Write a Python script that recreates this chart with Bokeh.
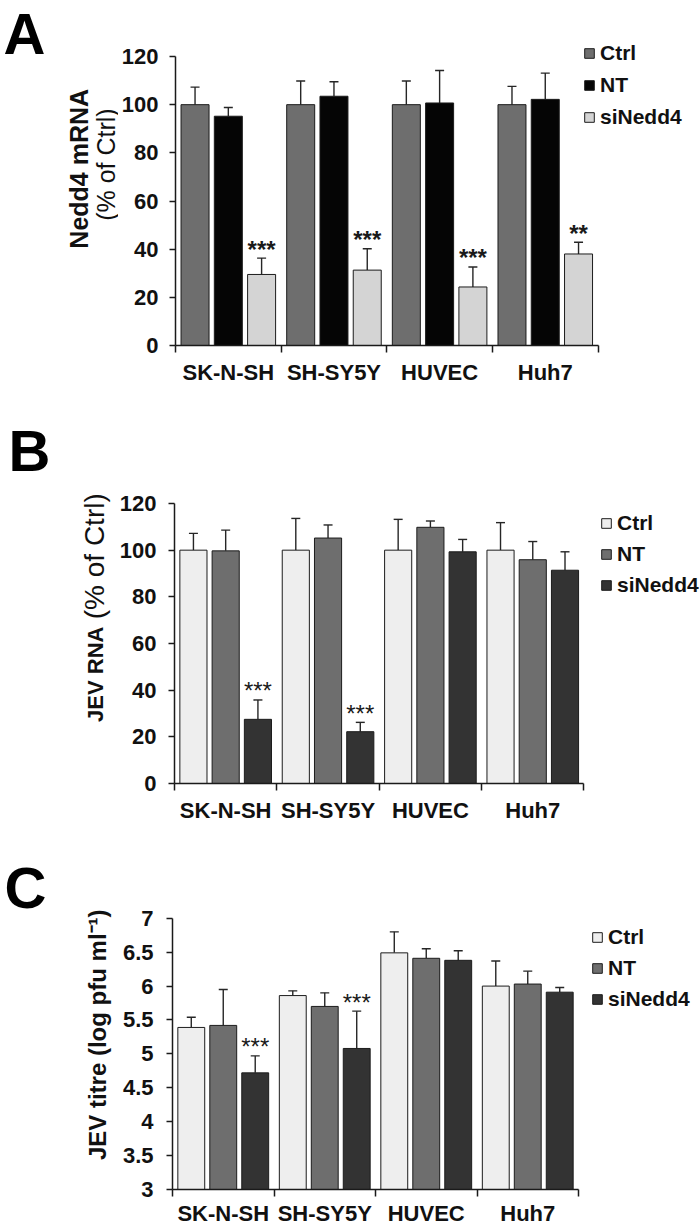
import math
import numpy as np
from bokeh.plotting import figure
from bokeh.models import (Range1d, FixedTicker, CustomJSTickFormatter, ColumnDataSource,
                          Whisker, TeeHead, Label, Legend, LegendItem)
from bokeh.layouts import column, row
from bokeh.embed import file_html
from bokeh.resources import INLINE
from bokeh.core.properties import value

# ---------------- data ----------------
cell_lines = ["SK-N-SH", "SH-SY5Y", "HUVEC", "Huh7"]
series = ["Ctrl", "NT", "siNedd4"]

# Panel A: Nedd4 mRNA (% of Ctrl)
a_ctrl = [100, 100, 100, 100]
a_ctrl_err = [7.3, 9.8, 9.8, 7.6]
a_nt = [95.2, 103.5, 100.7, 102.2]
a_nt_err = [3.6, 6.0, 13.5, 10.9]
a_si = [29.5, 31.3, 24.3, 38.0]
a_si_err = [6.8, 8.9, 8.3, 4.9]
a_stars = ["***", "***", "***", "**"]
a_ticks = [0, 20, 40, 60, 80, 100, 120]

# Panel B: JEV RNA (% of Ctrl)
b_ctrl = [100, 100, 100, 100]
b_ctrl_err = [7.2, 13.6, 13.2, 11.8]
b_nt = [99.7, 105.2, 109.8, 95.9]
b_nt_err = [8.9, 5.6, 2.7, 7.8]
b_si = [27.5, 22.2, 99.3, 91.4]
b_si_err = [8.3, 4.0, 5.3, 7.9]
b_stars = ["***", "***", "", ""]
b_ticks = [0, 20, 40, 60, 80, 100, 120]

# Panel C: JEV titre (log pfu/ml)
c_ctrl = [5.39, 5.86, 6.49, 6.00]
c_ctrl_err = [0.15, 0.07, 0.31, 0.37]
c_nt = [5.42, 5.70, 6.41, 6.03]
c_nt_err = [0.53, 0.20, 0.14, 0.19]
c_si = [4.72, 5.08, 6.38, 5.91]
c_si_err = [0.25, 0.55, 0.14, 0.07]
c_stars = ["***", "***", "", ""]
c_ticks = [3, 3.5, 4, 4.5, 5, 5.5, 6, 6.5, 7]

a_colors = ["#6e6e6e", "#050505", "#d4d4d4"]
bc_colors = ["#eeeeee", "#6e6e6e", "#333333"]

FONT = "Liberation Sans"
PAGE_W = 700
AXIS_X = 172          # page x of the y axis
OFFS = [-0.315, 0.0, 0.315]
BAR_W = 0.265
ROWH = 25


def side_figure(T, H, W1, letter, letter_x, letter_top, titles):
    """Narrow figure holding the panel letter and the y-axis title."""
    s = figure(width=W1, height=H, x_range=Range1d(0, W1), y_range=Range1d(0, H),
               output_backend="svg", toolbar_location=None,
               x_axis_type=None, y_axis_type=None,
               min_border_left=0, min_border_right=0, min_border_top=0, min_border_bottom=0)
    s.outline_line_color = None
    s.xgrid.visible = False
    s.ygrid.visible = False
    s.add_layout(Label(x=letter_x, y=H - (letter_top - T), text=letter,
                       text_font=FONT, text_font_style="bold", text_font_size="58px",
                       text_baseline="top", text_align="left", text_color="#000000"))
    for (txt, cx, cy, size, style) in titles:
        s.add_layout(Label(x=cx, y=H - (cy - T), text=txt, angle=math.pi / 2,
                           text_font=FONT, text_font_style=style,
                           text_font_size=f"{size}px", text_align="center",
                           text_baseline="middle", text_color="#111111"))
    return s


def main_figure(T, H, W1, FT, FB, FR, ylo, yhi, yticks, vals, errs, stars, colors,
                star_style, legend_x, legend_row1, legend_step, xlab_standoff, ylab_standoff):
    n = len(cell_lines)
    px_x = (FR - AXIS_X) / n
    px_y = (FB - FT) / (yhi - ylo)
    xmax = (PAGE_W - AXIS_X) / px_x
    ytop = yhi + (FT - T) / px_y
    p = figure(width=PAGE_W - W1, height=H,
               x_range=Range1d(0, xmax), y_range=Range1d(ylo, ytop),
               output_backend="svg", toolbar_location=None,
               min_border_left=AXIS_X - W1, min_border_right=0,
               min_border_top=0, min_border_bottom=T + H - FB)
    p.outline_line_color = None
    p.xgrid.visible = False
    p.ygrid.visible = False

    renderers = []
    base = np.arange(n) + 0.5
    for k, name in enumerate(series):
        v = np.array(vals[k], dtype=float)
        e = np.array(errs[k], dtype=float)
        src = ColumnDataSource(dict(x=base + OFFS[k], top=v, up=v + e,
                                    stars=stars if k == 2 else [""] * len(v)))
        r = p.vbar(x="x", top="top", bottom=ylo, width=BAR_W, source=src,
                   fill_color=colors[k], line_color="#1c1c1c", line_width=1)
        renderers.append(r)
        w = Whisker(base="x", lower="top", upper="up", source=src, dimension="height",
                    line_color="#262626", line_width=1.4,
                    upper_head=TeeHead(size=9, line_color="#262626", line_width=1.4),
                    lower_head=None)
        p.add_layout(w)
        if k == 2:
            p.text(x="x", y="up", text="stars", source=src, text_align="center",
                   text_baseline="alphabetic", text_font=value(FONT), y_offset=-9,
                   text_font_size="24px", text_font_style=star_style,
                   text_color="#1a1a1a")

    xa = p.xaxis[0]
    xa.bounds = (0, n)
    xa.ticker = FixedTicker(ticks=[float(t) for t in base], minor_ticks=list(range(n + 1)))
    xa.formatter = CustomJSTickFormatter(args=dict(names=cell_lines),
                                         code="return names[Math.floor(tick)]")
    xa.major_tick_out = 0
    xa.major_tick_in = 0
    xa.minor_tick_out = 7
    xa.minor_tick_in = 0
    xa.minor_tick_line_color = "#1a1a1a"
    xa.minor_tick_line_width = 1.5
    xa.axis_line_color = "#1a1a1a"
    xa.axis_line_width = 1.5
    xa.major_label_text_font = FONT
    xa.major_label_text_font_style = "bold"
    xa.major_label_text_font_size = "22px"
    xa.major_label_text_color = "#111111"
    xa.major_label_standoff = xlab_standoff

    ya = p.yaxis[0]
    ya.bounds = (ylo, yhi)
    ya.ticker = FixedTicker(ticks=yticks)
    ya.formatter = CustomJSTickFormatter(code="return String(tick)")
    ya.major_tick_out = 6
    ya.major_tick_in = 0
    ya.minor_tick_line_color = None
    ya.major_tick_line_color = "#1a1a1a"
    ya.major_tick_line_width = 1.5
    ya.axis_line_color = "#1a1a1a"
    ya.axis_line_width = 1.5
    ya.major_label_text_font = FONT
    ya.major_label_text_font_style = "bold"
    ya.major_label_text_font_size = "22px"
    ya.major_label_text_color = "#111111"
    ya.major_label_standoff = ylab_standoff

    spacing = legend_step - ROWH
    top = legend_row1 - ROWH / 2
    height = 3 * ROWH + 2 * spacing
    vy = FB - (top + height)
    vx = legend_x - AXIS_X
    legend = Legend(items=[LegendItem(label=s, renderers=[r]) for s, r in zip(series, renderers)],
                    location=(vx, vy), orientation="vertical", padding=0, margin=0,
                    spacing=spacing, glyph_width=12, glyph_height=12, label_standoff=5,
                    label_height=ROWH, label_text_font=FONT, label_text_font_style="bold",
                    label_text_font_size="21px", label_text_color="#111111",
                    border_line_color=None, background_fill_alpha=0)
    p.add_layout(legend)
    return p


# Panel A
TA, HA, WA = 0, 410, 118
sA = side_figure(TA, HA, WA, "A", 3, 0,
                 [("Nedd4 mRNA", 78, 200, 25, "bold"),
                  ("(% of Ctrl)", 105, 195, 25, "normal")])
pA = main_figure(TA, HA, WA, FT=56, FB=345, FR=597, ylo=0, yhi=120, yticks=a_ticks,
                 vals=[a_ctrl, a_nt, a_si], errs=[a_ctrl_err, a_nt_err, a_si_err],
                 stars=a_stars, colors=a_colors, star_style="bold",
                 legend_x=580, legend_row1=53, legend_step=32,
                 xlab_standoff=7, ylab_standoff=11)

# Panel B
TB, HB, WB = 410, 430, 116
sB = side_figure(TB, HB, WB, "B", 8, 419,
                 [("JEV RNA", 95, 714, 22, "bold"),
                  ("(% of Ctrl)", 94, 578, 28, "normal")])
pB = main_figure(TB, HB, WB, FT=503, FB=783, FR=583, ylo=0, yhi=120, yticks=b_ticks,
                 vals=[b_ctrl, b_nt, b_si], errs=[b_ctrl_err, b_nt_err, b_si_err],
                 stars=b_stars, colors=bc_colors, star_style="normal",
                 legend_x=598, legend_row1=523, legend_step=31,
                 xlab_standoff=7, ylab_standoff=12)

# Panel C
TC, HC, WC = 840, 388, 118
sC = side_figure(TC, HC, WC, "C", 4, 856,
                 [("JEV titre (log pfu ml\u207b\u00b9)", 97, 1056, 24, "bold")])
pC = main_figure(TC, HC, WC, FT=918, FB=1190, FR=578, ylo=3, yhi=7, yticks=c_ticks,
                 vals=[c_ctrl, c_nt, c_si], errs=[c_ctrl_err, c_nt_err, c_si_err],
                 stars=c_stars, colors=bc_colors, star_style="normal",
                 legend_x=591, legend_row1=938, legend_step=31,
                 xlab_standoff=4, ylab_standoff=13)

layout = column(row(sA, pA, spacing=0), row(sB, pB, spacing=0), row(sC, pC, spacing=0),
                spacing=0)
open("out.html", "w").write(file_html(layout, INLINE))
